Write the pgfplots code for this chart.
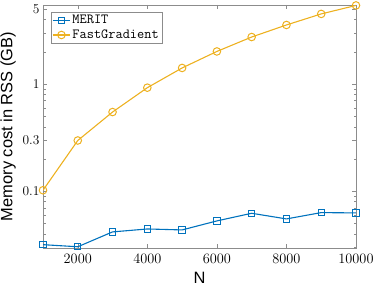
\documentclass[border=0pt]{standalone}
\usepackage{fontspec}
\newfontfamily\helv{Liberation Sans}
\usepackage{pgfplots}
\pgfplotsset{compat=1.18}
\definecolor{mblue}{rgb}{0,0.447,0.741}
\definecolor{morange}{rgb}{0.929,0.694,0.125}
\definecolor{axgray}{rgb}{0.55,0.55,0.55}
\begin{document}
\begin{tikzpicture}
\begin{axis}[
  name=ax,
  scale only axis, width=313bp, height=243bp,
  ymode=log, xmin=1000, xmax=10000, ymin=0.0295, ymax=5.45,
  xtick={2000,4000,6000,8000,10000},
  scaled x ticks=false,
  xticklabel style={/pgf/number format/1000 sep={}, yshift=-2.5bp},
  ytick={0.1,0.3,1,5}, yticklabels={0.1,0.3,1,5},
  minor ytick={0.03,0.04,0.05,0.06,0.07,0.08,0.09,0.2,0.4,0.5,0.6,0.7,0.8,0.9,2,3,4},
  tick label style={font=\fontsize{13.5}{15}\selectfont},
  xlabel={N}, ylabel={Memory cost in RSS (GB)},
  label style={font=\helv\fontsize{16.5}{18}\selectfont},
  xlabel style={at={(axis description cs:0.5,0)}, anchor=north, inner sep=0pt, yshift=-23.5bp},
  axis line style={axgray}, tick style={axgray},
  major tick length=4bp, minor tick length=2.5bp,
  tick align=inside,
  legend style={at={(0,1)}, anchor=north west, xshift=7.7bp, yshift=-6.7bp, draw=axgray,
    font=\ttfamily\fontsize{14}{16}\selectfont, inner sep=1.5pt, row sep=0.5pt},
  legend cell align=left,
]
\addplot[mblue, line width=1.1pt, mark=square, mark size=3.2pt, mark options={solid, line width=1pt}]
coordinates {(1000,0.0317)(2000,0.0303)(3000,0.0417)(4000,0.0444)(5000,0.0435)(6000,0.0528)(7000,0.0622)(8000,0.0551)(9000,0.0631)(10000,0.0627)};
\addlegendentry{MERIT}
\addplot[morange, line width=1.1pt, mark=o, mark size=3.8pt, mark options={solid, line width=1pt}]
coordinates {(1000,0.102)(2000,0.297)(3000,0.547)(4000,0.923)(5000,1.41)(6000,2.01)(7000,2.74)(8000,3.55)(9000,4.5)(10000,5.4)};
\addlegendentry{FastGradient}
\end{axis}
\pgfresetboundingbox
\path[use as bounding box] ([shift={(-43bp,-39bp)}]ax.south west) rectangle ([shift={(18bp,5bp)}]ax.north east);
\end{tikzpicture}
\end{document}
